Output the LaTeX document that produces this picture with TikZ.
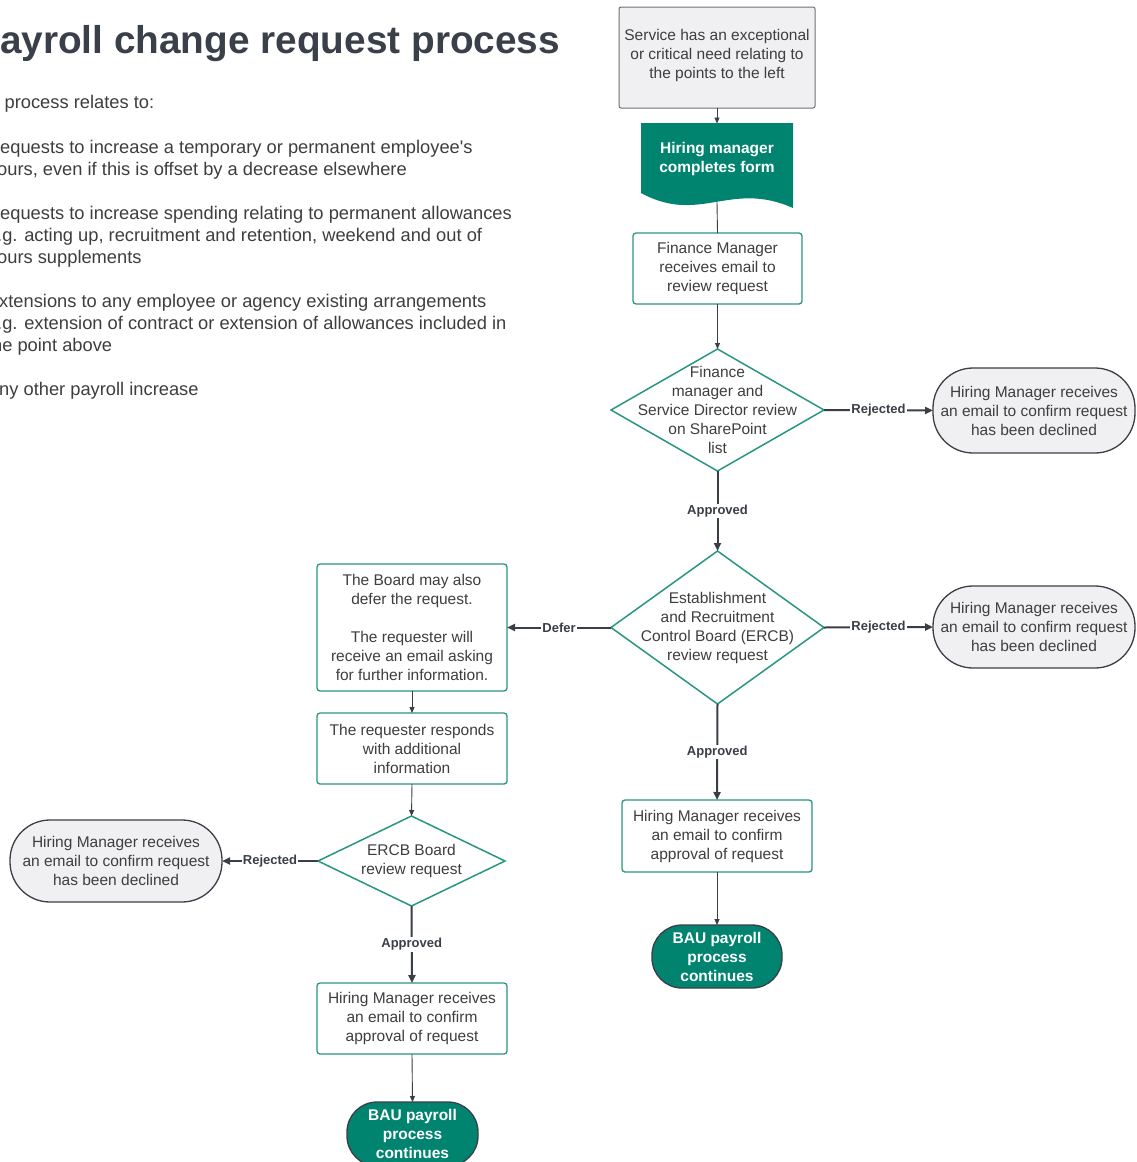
\documentclass[tikz,border=0pt]{standalone}
\usepackage{fontspec}
\setmainfont{Liberation Sans}
\newfontfamily\plainfam{Liberation Sans}
\usetikzlibrary{shapes.geometric,arrows.meta}
\definecolor{tealfill}{RGB}{0,132,112}
\definecolor{tealline}{RGB}{40,150,130}
\definecolor{darkc}{RGB}{58,63,71}
\definecolor{grayfill}{RGB}{240,240,242}
\definecolor{grayline}{RGB}{112,112,112}
\definecolor{txtc}{RGB}{62,62,62}
\definecolor{titlec}{RGB}{57,64,73}
\begin{document}
\begin{tikzpicture}[x=1pt,y=-1pt,
  every node/.style={inner sep=0pt, outer sep=0pt},
  fs/.style={font=\fontsize{15.5}{19}\selectfont},
  bodytxt/.style={anchor=base west, text=txtc, font=\fontsize{18.3}{22}\selectfont},
  procbox/.style={rectangle, rounded corners=3pt, draw=tealline, line width=1.3pt, fill=white, align=center, text=txtc, fs},
  termbox/.style={rectangle, rounded corners=40pt, draw=darkc, line width=1.3pt, fill=grayfill, align=center, text=txtc, fs},
  baubox/.style={rectangle, rounded corners=30pt, draw=darkc, line width=1.3pt, fill=tealfill, align=center, text=white, font=\bfseries\fontsize{15.5}{19}\selectfont},
  decbox/.style={diamond, draw=tealline, line width=1.5pt, fill=white},
  dectxt/.style={fs, align=center, text=txtc},
  thin/.style={draw=darkc, line width=0.9pt, -{Triangle[length=6pt,width=5pt]}},
  thick/.style={draw=darkc, line width=2pt, -{Triangle[length=8pt,width=7pt]}},
  lab/.style={fill=white, inner sep=1pt, text=darkc, font=\bfseries\fontsize{13}{15}\selectfont}
]
\useasboundingbox (0,0) rectangle (1137,1162);
\clip (0,0) rectangle (1137,1162);
\fill[white] (0,0) rectangle (1137,1162);

% title and intro text
\node[anchor=base east, text=titlec, font=\bfseries\fontsize{38.75}{46}\selectfont] (title) at (560,53) {Payroll change request process};
\node[bodytxt] (t0) at (-35,108) {This process relates to:};
\node[bodytxt] (t1) at (-13,153) {Requests to increase a temporary or permanent employee{\plainfam '}s};
\node[bodytxt] (t2) at (-13,175) {hours, even if this is offset by a decrease elsewhere};
\node[bodytxt] (t3) at (-13,219) {Requests to increase spending relating to permanent allowances};
\node[bodytxt] (t4) at (-13,241) {e.g. acting up, recruitment and retention, weekend and out of};
\node[bodytxt] (t5) at (-13,263) {hours supplements};
\node[bodytxt] (t6) at (-13,307) {Extensions to any employee or agency existing arrangements};
\node[bodytxt] (t7) at (-13,329) {e.g. extension of contract or extension of allowances included in};
\node[bodytxt] (t8) at (-13,351) {the point above};
\node[bodytxt] (t9) at (-13,395) {Any other payroll increase};

% right column
\node[rectangle, rounded corners=2pt, draw=grayline, line width=1pt, fill=grayfill, minimum width=196pt, minimum height=101pt, label={[dectxt, yshift=2pt]center:{Service has an exceptional\\or critical need relating to\\the points to the left}}] (b1) at (717,57.5) {};

\fill[tealfill] (641,123) -- (793,123) -- (793,208) .. controls (730,180) and (700,225) .. (641,193) -- cycle;
\node[align=center, text=white, font=\bfseries\fontsize{15.5}{19}\selectfont, minimum height=70pt] (doc) at (717,158.5) {Hiring manager\\completes form};
\coordinate (docb) at (717,202);

\node[procbox, minimum width=169pt, minimum height=71pt] (fm) at (717.5,268.5) {Finance Manager\\receives email to\\review request};

\node[decbox, minimum width=213pt, minimum height=122pt, label={[dectxt]center:{Finance\\manager and\\Service Director review\\on SharePoint\\list}}] (d1) at (717.5,410) {};

\node[termbox, minimum width=202pt, minimum height=85pt] (r1) at (1034,410.5) {Hiring Manager receives\\an email to confirm request\\has been declined};

\node[decbox, minimum width=213pt, minimum height=153pt, label={[dectxt]center:{Establishment\\and Recruitment\\Control Board (ERCB)\\review request}}] (d2) at (717.5,627.5) {};

\node[termbox, minimum width=202pt, minimum height=82pt] (r2) at (1034,627) {Hiring Manager receives\\an email to confirm request\\has been declined};

\node[procbox, minimum width=190pt, minimum height=72pt] (ap2) at (717,836) {Hiring Manager receives\\an email to confirm\\approval of request};

\node[baubox, minimum width=130pt, minimum height=63pt] (bau2) at (717,956.5) {BAU payroll\\process\\continues};

% left column
\node[procbox, minimum width=190pt, minimum height=127pt] (defer) at (412,627.5) {The Board may also\\defer the request.\\[19pt]The requester will\\receive an email asking\\for further information.};

\node[procbox, minimum width=190pt, minimum height=71pt] (resp) at (412,748.5) {The requester responds\\with additional\\information};

\node[decbox, minimum width=187pt, minimum height=90pt, label={[dectxt]center:{ERCB Board\\review request}}] (d3) at (411.5,861) {};

\node[termbox, minimum width=212pt, minimum height=82pt] (r3) at (116,861) {Hiring Manager receives\\an email to confirm request\\has been declined};

\node[procbox, minimum width=190pt, minimum height=71pt] (ap3) at (412,1018.5) {Hiring Manager receives\\an email to confirm\\approval of request};

\node[baubox, minimum width=131pt, minimum height=64pt] (bau3) at (412.5,1134) {BAU payroll\\process\\continues};

% connectors
\draw[thin] (b1.south) -- (doc.north);
\draw[draw=darkc, line width=0.9pt] (docb) -- (fm.north);
\draw[thin] (fm.south) -- (d1.north);
\draw[thick] (d1.east) -- node[lab]{Rejected} (r1.west);
\draw[thick] (d1.south) -- node[lab]{Approved} (d2.north);
\draw[thick] (d2.east) -- node[lab]{Rejected} (r2.west);
\draw[thick] (d2.west) -- node[lab]{Defer} (defer.east);
\draw[thick] (d2.south) -- node[lab]{Approved} (ap2.north);
\draw[thin] (ap2.south) -- (bau2.north);
\draw[thin] (defer.south) -- (resp.north);
\draw[thin] (resp.south) -- (d3.north);
\draw[thick] (d3.west) -- node[lab]{Rejected} (r3.east);
\draw[thick] (d3.south) -- node[lab]{Approved} (ap3.north);
\draw[thin] (ap3.south) -- (bau3.north);
\end{tikzpicture}
\end{document}
